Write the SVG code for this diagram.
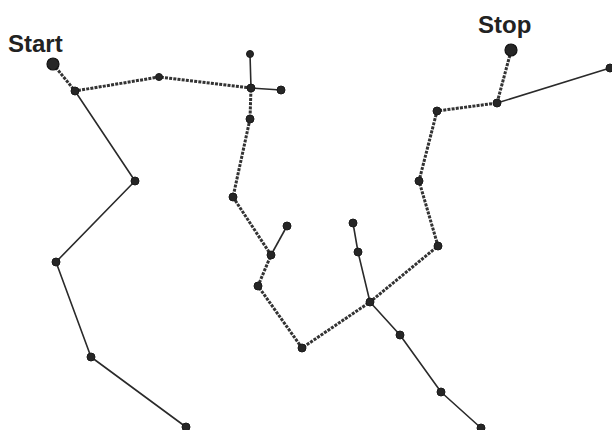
<svg xmlns="http://www.w3.org/2000/svg" width="612" height="430" viewBox="0 0 612 430">
<style>
.dash{fill:none;stroke:#333;stroke-width:3;stroke-dasharray:3 1.2;stroke-linecap:butt;stroke-linejoin:round}
.solid{fill:none;stroke:#2a2a2a;stroke-width:1.6;stroke-linejoin:round}
.n circle{fill:#262626;stroke:#1a1a1a;stroke-width:1}
.big circle{fill:#262626;stroke:#111;stroke-width:1.2}
text{font-family:"Liberation Sans",Arial,sans-serif;font-weight:bold;font-size:24px;fill:#222}
</style>
<rect width="612" height="430" fill="#fff"/>
<g id="connectors">
<polyline class="dash" points="53,64 75,91 159,77 251,88 250,119 233,197 271,255 258,286 302,348 370,302 438,246 419,181 437,111 497,103 511,51"/>
<polyline class="solid" points="250,54 251,88 281,90"/>
<polyline class="solid" points="271,255 287,226"/>
<polyline class="solid" points="353,223 358,252 370,302 400,335 441,392 481,428"/>
<polyline class="solid" points="497,103 610,68"/>
<polyline class="solid" points="75,91 135,181 56,262 91,357 186,427"/>
</g>
<g id="start" class="big"><circle cx="53" cy="64" r="6"/><text x="8" y="52">Start</text></g>
<g id="stop" class="big"><circle cx="511" cy="50" r="6"/><text x="478" y="33">Stop</text></g>
<g id="n1" class="n"><circle cx="75" cy="91" r="4"/></g>
<g id="n2" class="n"><circle cx="159" cy="77" r="3.5"/></g>
<g id="n3" class="n"><circle cx="251" cy="88" r="4"/></g>
<g id="n4" class="n"><circle cx="250" cy="54" r="3.5"/></g>
<g id="n5" class="n"><circle cx="281" cy="90" r="4"/></g>
<g id="n6" class="n"><circle cx="250" cy="119" r="4"/></g>
<g id="n7" class="n"><circle cx="233" cy="197" r="4"/></g>
<g id="n8" class="n"><circle cx="271" cy="255" r="4"/></g>
<g id="n9" class="n"><circle cx="287" cy="226" r="4"/></g>
<g id="n10" class="n"><circle cx="258" cy="286" r="4"/></g>
<g id="n11" class="n"><circle cx="302" cy="348" r="4"/></g>
<g id="n12" class="n"><circle cx="370" cy="302" r="4"/></g>
<g id="n13" class="n"><circle cx="358" cy="252" r="4"/></g>
<g id="n14" class="n"><circle cx="353" cy="223" r="4"/></g>
<g id="n15" class="n"><circle cx="400" cy="335" r="4"/></g>
<g id="n16" class="n"><circle cx="441" cy="392" r="4"/></g>
<g id="n17" class="n"><circle cx="481" cy="428" r="4"/></g>
<g id="n18" class="n"><circle cx="438" cy="246" r="4"/></g>
<g id="n19" class="n"><circle cx="419" cy="181" r="4"/></g>
<g id="n20" class="n"><circle cx="437" cy="111" r="4"/></g>
<g id="n21" class="n"><circle cx="497" cy="103" r="4"/></g>
<g id="n22" class="n"><circle cx="610" cy="68" r="4"/></g>
<g id="n23" class="n"><circle cx="135" cy="181" r="4"/></g>
<g id="n24" class="n"><circle cx="56" cy="262" r="4"/></g>
<g id="n25" class="n"><circle cx="91" cy="357" r="4"/></g>
<g id="n26" class="n"><circle cx="186" cy="427" r="4"/></g>
</svg>
